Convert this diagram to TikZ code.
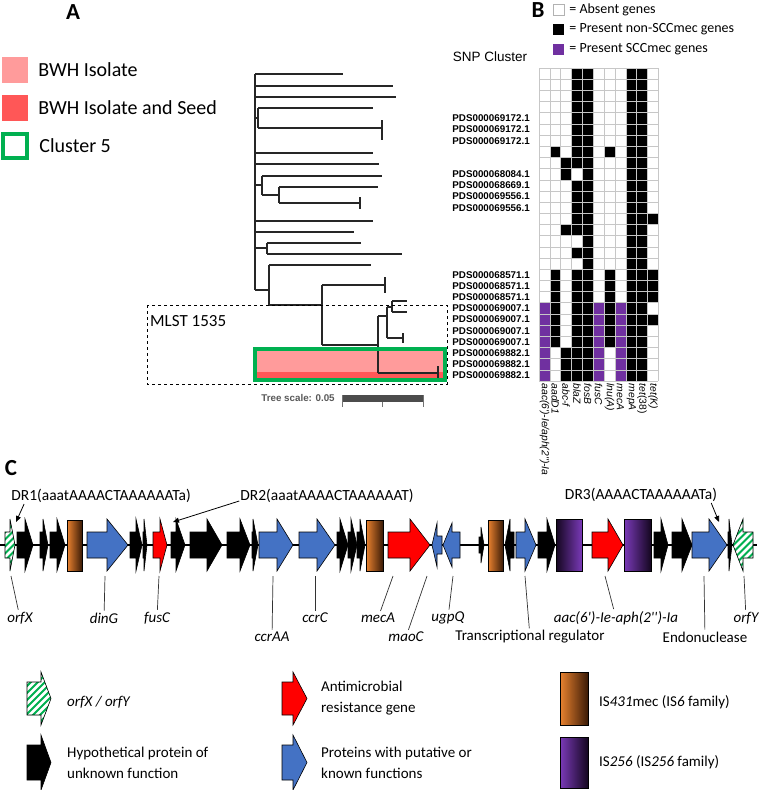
\documentclass[tikz,border=0pt]{standalone}
\usepackage{fontspec}
\setmainfont{Carlito}
\newfontfamily\arialf{Liberation Sans}
\usetikzlibrary{arrows.meta, positioning, calc}
\definecolor{bwhPink}{HTML}{FF9B9B}
\definecolor{bwhRed}{HTML}{FF5757}
\definecolor{clGreen}{HTML}{00B050}
\definecolor{snpPurple}{HTML}{7030A0}
\definecolor{geneBlue}{HTML}{4472C4}
\definecolor{geneRed}{HTML}{FF0000}
\definecolor{isOrange}{HTML}{E9822F}
\definecolor{isBrown}{HTML}{3A1A06}
\definecolor{isPurple}{HTML}{7A3AB8}
\definecolor{isDark}{HTML}{14061F}
\colorlet{hm0}{white}
\colorlet{hm1}{black}
\colorlet{hm2}{snpPurple}

% gene outline: x start, head start, x tip, y centre, body half, head half
\newcommand{\gpath}[6]{(#1,#4-#5) -- (#2,#4-#5) -- (#2,#4-#6) -- (#3,#4) -- (#2,#4+#6) -- (#2,#4+#5) -- (#1,#4+#5) -- cycle}
\newcommand{\stripegene}[6]{%
  \fill[clGreen] \gpath{#1}{#2}{#3}{#4}{#5}{#6};
  \begin{scope}
    \clip \gpath{#1}{#2}{#3}{#4}{#5}{#6};
    \foreach \k in {-60,-53,...,60} \draw[stripe] ({#1+\k},{#4+30}) -- ++(60,-60);
  \end{scope}
  \draw[gene] \gpath{#1}{#2}{#3}{#4}{#5}{#6};}

\begin{document}
\begin{tikzpicture}[
  x=1pt, y=-1pt,
  legtxt/.style={anchor=west, inner sep=0pt, font=\fontsize{20}{24}\selectfont},
  legsq/.style={minimum size=26pt, inner sep=0pt},
  panel/.style={font=\bfseries\fontsize{23}{26}\selectfont, inner sep=0pt},
  br/.style={draw=black!85, line width=1.1pt},
  pds/.style={anchor=east, inner sep=0pt, font=\arialf\bfseries\fontsize{9.8}{11}\selectfont},
  collab/.style={rotate=-90, anchor=west, inner sep=0.5pt, font=\arialf\itshape\fontsize{10.3}{12}\selectfont},
  grid/.style={draw=black!22, line width=0.6pt},
  keysq/.style={minimum size=11pt, inner sep=0pt},
  keytxt/.style={anchor=west, inner sep=0pt, font=\fontsize{14}{16}\selectfont},
  gene/.style={draw=black, line width=0.6pt},
  stripe/.style={white, line width=2.6pt},
  isorg/.style={left color=isOrange, right color=isBrown},
  ispurp/.style={left color=isPurple, right color=isDark},
  ispurprev/.style={left color=isDark, right color=isPurple},
  glabel/.style={inner sep=2pt, font=\itshape\fontsize{15}{18}\selectfont},
  plabel/.style={inner sep=2pt, font=\fontsize{15}{18}\selectfont},
  tag/.style={draw=black!80, line width=0.7pt},
  drtxt/.style={inner sep=1pt, font=\fontsize{15.5}{18}\selectfont},
  drarrow/.style={-{Triangle[length=6pt,width=5pt]}, line width=0.8pt},
  keyline/.style={anchor=west, align=left, inner sep=0pt, font=\fontsize{15}{21}\selectfont},
]
\path[use as bounding box, fill=white] (0,0) rectangle (760,790);

% panel A legend
\node[panel] (pA) at (73,12) {A};
\node[legsq, fill=bwhPink] (sqiso) at (15,70) {};
\node[legtxt, right=10pt of sqiso] (tiso) {BWH Isolate};
\node[legsq, fill=bwhRed] (sqseed) at (15,108) {};
\node[legtxt, right=10pt of sqseed] (tseed) {BWH Isolate and Seed};
\node[legsq, minimum size=24pt, draw=clGreen, line width=3.5pt] (sqcl) at (15,146) {};
\node[legtxt, right=10.5pt of sqcl] (tcl) {Cluster 5};

% cluster 5 highlight
\fill[bwhPink] (257,351) rectangle (443,372);
\fill[bwhRed] (257,372) rectangle (443,378);

% tree
\draw[br] (255,74) -- (255,290);
\foreach \y/\e in {74/343, 86/393, 97/396, 153/373, 164/379, 221/373, 232/354}
  \draw[br] (255,\y) -- (\e,\y);
\draw[br] (255,118) -- (258,118) (258,108) -- (258,128) (258,108) -- (373,108)
  (258,128) -- (382,128) (382,120) -- (382,140);
\draw[br] (255,185) -- (262,185) (262,176) -- (262,195) (262,176) -- (382,176)
  (262,195) -- (279,195) (279,187) -- (279,203) (279,187) -- (378,187)
  (279,203) -- (360,203) (360,197) -- (360,209);
\draw[br] (255,248) -- (267,248) (267,243) -- (267,254) (267,243) -- (361,243) (267,254) -- (402,254);
\draw[br] (255,290) -- (269,290) (269,265) -- (269,305) (269,265) -- (371,265)
  (269,305) -- (322,305) (322,285) -- (322,345) (322,285) -- (385,285) (385,277) -- (385,293)
  (322,345) -- (378,345) (378,316) -- (378,373) (378,316) -- (387,316)
  (387,307) -- (387,338) (387,307) -- (392,307) (392,301) -- (392,312)
  (392,301) -- (407,301) (392,312) -- (407,312) (387,338) -- (403,338) (403,333) -- (403,343)
  (378,373) -- (438,373) (438,366) -- (438,379);

% MLST box and cluster frame
\draw[dashed, line width=0.8pt] (147,305) rectangle (447,384);
\node[anchor=west, inner sep=0pt, font=\fontsize{17}{20}\selectfont] (mlst) at (150,321) {MLST 1535};
\draw[clGreen, line width=4pt] (255,349) rectangle (445,380);

% tree scale
\node[inner sep=0pt, text=black!65, font=\arialf\bfseries\fontsize{9.8}{11}\selectfont] (tscale) at (298,398) {Tree scale: 0.05};
\fill[black!70] (342,395) rectangle (423,402);
\draw[black!55, line width=0.6pt] (342,395) -- (342,407) (382.5,402) -- (382.5,407) (423,395) -- (423,407);

% panel B key
\node[panel] (pB) at (538,10) {B};
\node[keysq, draw=black!30, fill=white] (kabs) at (558.5,9.5) {};
\node[keytxt, right=5pt of kabs] (tabs) {= Absent genes};
\node[keysq, fill=black] (kblk) at (558.5,29) {};
\node[keytxt, right=5pt of kblk] (tblk) {= Present non-SCCmec genes};
\node[keysq, fill=snpPurple] (kpur) at (558.5,49) {};
\node[keytxt, right=5pt of kpur] (tpur) {= Present SCCmec genes};
\node[inner sep=0pt, font=\arialf\fontsize{13.5}{16}\selectfont] (snp) at (490,57) {SNP Cluster};

% gene presence matrix
\foreach \row [count=\r] in {
  {0,0,0,1,1,0,0,0,1,1,0},{0,0,0,1,1,0,0,0,1,1,0},{0,0,0,1,1,0,0,0,1,1,0},{0,0,0,1,1,0,0,0,1,1,0},
  {0,0,0,1,1,0,0,0,1,1,0},{0,0,0,1,1,0,0,0,1,1,0},{0,0,0,1,1,0,0,0,1,1,0},{0,1,0,1,1,0,1,0,1,1,0},
  {0,0,1,1,1,0,0,0,1,1,0},{0,0,1,0,1,0,0,0,1,1,0},{0,0,0,1,1,0,0,0,1,1,0},{0,0,0,1,1,0,0,0,1,1,0},
  {0,0,0,1,1,0,0,0,1,1,0},{0,0,0,1,1,0,0,0,1,1,1},{0,0,1,1,1,0,0,0,1,1,0},{0,0,0,0,1,0,0,0,1,1,0},
  {0,0,0,1,1,0,0,0,1,1,0},{0,0,0,0,1,0,0,0,1,1,0},{0,1,0,1,1,0,1,0,1,1,1},{0,1,0,1,1,0,1,0,1,1,1},
  {0,1,0,1,1,0,1,0,1,1,1},{2,1,0,1,1,2,1,2,1,1,0},{2,1,0,1,1,2,1,2,1,1,1},{2,1,0,1,1,2,1,2,1,1,0},
  {2,1,0,1,1,2,1,2,1,1,0},{2,0,1,1,1,2,0,2,1,1,0},{2,0,1,1,1,2,0,2,1,1,0},{2,0,1,1,1,2,0,2,1,1,0}}
  \foreach \v [count=\c] in \row
    \fill[fill=hm\v] ({539+(\c-1)*10.85},{68+(\r-1)*11.18}) rectangle ++(10.85,11.18);
\foreach \c in {0,...,11} \draw[grid] ({539+\c*10.85},68) -- ++(0,313.04);
\foreach \r in {0,...,28} \draw[grid] (539,{68+\r*11.18}) -- ++(119.35,0);

% row labels
\foreach \r/\lab in {5/PDS000069172.1, 6/PDS000069172.1, 7/PDS000069172.1, 10/PDS000068084.1,
  11/PDS000068669.1, 12/PDS000069556.1, 13/PDS000069556.1, 19/PDS000068571.1, 20/PDS000068571.1,
  21/PDS000068571.1, 22/PDS000069007.1, 23/PDS000069007.1, 24/PDS000069007.1, 25/PDS000069007.1,
  26/PDS000069882.1, 27/PDS000069882.1, 28/PDS000069882.1}
  \node[pds] (row\r) at (530,{68+(\r-0.5)*11.18}) {\lab};

% column labels
\foreach \lab [count=\c] in {{aac(6\textquotesingle)-Ie/aph(2\textquotesingle\textquotesingle)-Ia}, {aadD1}, {abc-f}, {blaZ}, {fosB}, {fusC},
  {lnu(A)}, {mecA}, {mepA}, {tet\upshape(38)}, {tet(K)}}
  \node[collab] (col\c) at ({539+(\c-0.5)*10.85},383) {\lab};

% panel C
\node[panel] (pC) at (11,468) {C};
\draw[line width=1.2pt] (0,545) -- (757,545);

% SCCmec gene map
\stripegene{5}{10}{15}{545}{13}{26}
\draw[gene, fill=black] \gpath{17}{25}{33}{545}{13}{26};
\draw[gene, fill=black] \gpath{40}{43}{48}{545}{13}{26};
\draw[gene, fill=black] \gpath{50}{57}{65}{545}{13}{26};
\shadedraw[gene, isorg] (67,520) rectangle (82,571);
\draw[gene, fill=geneBlue] \gpath{87}{107}{128}{545}{13}{26};
\draw[gene, fill=black] \gpath{130}{136}{142}{545}{13}{26};
\draw[gene, fill=black] \gpath{143}{144}{147}{545}{13}{26};
\draw[gene, fill=geneRed] \gpath{153}{160}{167}{545}{13}{26};
\draw[gene, fill=black] \gpath{171}{176}{185}{545}{13}{26};
\draw[gene, fill=black] \gpath{190}{207}{222}{545}{13}{26};
\draw[gene, fill=black] \gpath{227}{240}{250}{545}{13}{26};
\draw[gene, fill=black] \gpath{252}{253}{258}{545}{13}{26};
\draw[gene, fill=geneBlue] \gpath{259}{277}{293}{545}{13}{26};
\draw[gene, fill=geneBlue] \gpath{299}{317}{335}{545}{13}{26};
\draw[gene, fill=black] \gpath{337}{340}{348}{545}{13}{26};
\draw[gene, fill=black] \gpath{348}{351}{357}{545}{13}{26};
\draw[gene, fill=black] \gpath{357}{360}{365}{545}{13}{26};
\shadedraw[gene, isorg] (366,520) rectangle (383,571);
\draw[gene, fill=geneRed] \gpath{388}{410}{430}{545}{13}{26};
\draw[gene, fill=geneBlue] \gpath{442}{437}{432}{545}{9}{22};
\draw[gene, fill=geneBlue] \gpath{460}{452}{443}{545}{13}{22};
\draw[gene, fill=black] \gpath{479}{481}{484}{545}{8}{18};
\shadedraw[gene, isorg] (488,520) rectangle (503,571);
\draw[gene, fill=black] \gpath{514}{510}{505}{545}{13}{26};
\draw[gene, fill=geneBlue] \gpath{516}{525}{536}{545}{13}{26};
\draw[gene, fill=black] \gpath{538}{547}{555}{545}{13}{26};
\shadedraw[gene, ispurprev] (556,519) rectangle (582,571);
\draw[gene, fill=geneRed] \gpath{592}{608}{623}{545}{13}{26};
\shadedraw[gene, ispurp] (624,519) rectangle (651,571);
\draw[gene, fill=black] \gpath{654}{661}{668}{545}{13}{26};
\draw[gene, fill=black] \gpath{672}{682}{692}{545}{13}{26};
\draw[gene, fill=geneBlue] \gpath{692}{709}{727}{545}{13}{26};
\draw[gene, fill=black] \gpath{728}{729}{732}{545}{13}{26};
\stripegene{753}{743}{733}{545}{13}{26}

% direct repeats
\node[drtxt] (dr1) at (101,496) {DR1(aaatAAAACTAAAAAATa)};
\node[drtxt] (dr2) at (327,496) {DR2(aaatAAAACTAAAAAAT)};
\node[drtxt] (dr3) at (641,495) {DR3(AAAACTAAAAAATa)};
\coordinate (dr1tip) at (16,522);
\coordinate (dr2tip) at (173,522);
\coordinate (dr3tip) at (719,522);
\draw[drarrow] ([xshift=14pt]dr1.south west) -- (dr1tip);
\draw[drarrow] ([yshift=-5pt]dr2.west) -- (dr2tip);
\draw[drarrow] ([xshift=-7pt]dr3.south east) -- (dr3tip);

% gene labels
\node[glabel] (lorfX) at (20,618) {orfX};
\node[glabel] (ldinG) at (104,618) {dinG};
\node[glabel] (lfusC) at (157,618) {fusC};
\node[glabel] (lccrAA) at (272,637) {ccrAA};
\node[glabel] (lccrC) at (315,618) {ccrC};
\node[glabel] (lmecA) at (378,618) {mecA};
\node[glabel] (lmaoC) at (406,637) {maoC};
\node[glabel] (lugpQ) at (448,618) {ugpQ};
\node[plabel] (ltrans) at (530,637) {Transcriptional regulator};
\node[glabel] (laac) at (616,618) {aac(6\textquotesingle)-Ie-aph(2\textquotesingle\textquotesingle)-Ia};
\node[plabel] (lendo) at (705,637) {Endonuclease};
\node[glabel] (lorfY) at (746,618) {orfY};
\foreach \n/\x in {orfX/11, dinG/105, fusC/159, ccrAA/273, ccrC/315, mecA/393, maoC/427,
  ugpQ/453, trans/525, aac/605, endo/704, orfY/744}
  \coordinate (a\n) at (\x,576);
\foreach \n in {orfX, dinG, fusC, ccrAA, ccrC, mecA, maoC, ugpQ, trans, aac, endo, orfY}
  \draw[tag] (a\n) -- (l\n);

% key
\stripegene{27}{41}{51}{698.5}{16.5}{26.5}
\node[keyline] (korf) at (67,702) {\itshape orfX / orfY};
\draw[gene, fill=black] \gpath{27}{41}{51}{762.5}{17.5}{27.5};
\node[keyline] (khyp) at (67,762.5) {Hypothetical protein of\\unknown function};
\draw[gene, fill=geneRed] \gpath{282}{293}{307}{698.5}{16.5}{26.5};
\node[keyline] (kamr) at (321,698.5) {Antimicrobial\\resistance gene};
\draw[gene, fill=geneBlue] \gpath{282}{293}{307}{762.5}{17.5}{27.5};
\node[keyline] (kprot) at (321,762.5) {Proteins with putative or\\known functions};
\shadedraw[gene, isorg] (560,672) rectangle (588,725);
\node[keyline] (kis6) at (599,702) {IS\textit{431}mec (IS\textit{6} family)};
\shadedraw[gene, ispurp] (560,737) rectangle (588,788);
\node[keyline] (kis256) at (599,762) {IS\textit{256} (IS\textit{256} family)};
\end{tikzpicture}
\end{document}
